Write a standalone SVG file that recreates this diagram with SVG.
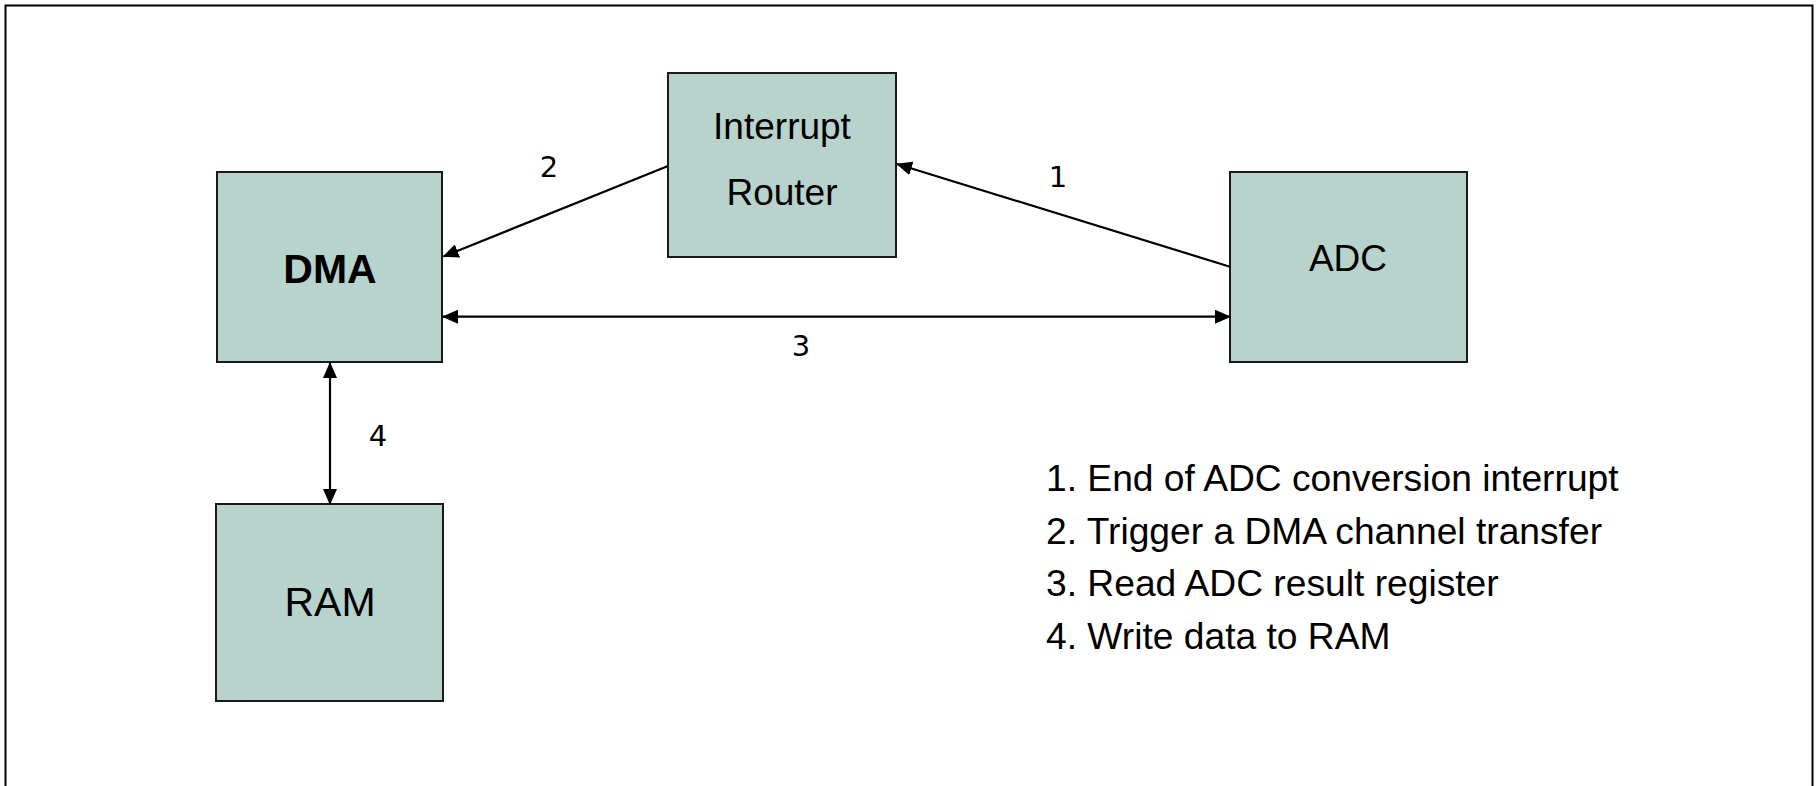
<svg xmlns="http://www.w3.org/2000/svg" width="1816" height="786" viewBox="0 0 1816 786">
<style>
.box{fill:#b8d3cc;stroke:#1a1a1a;stroke-width:2}
.t{font-family:"Liberation Sans",Arial,sans-serif;fill:#000;text-anchor:middle}
.num{font-family:"DejaVu Sans",Verdana,sans-serif;font-size:29px;fill:#000;text-anchor:middle}
.leg{font-family:"Liberation Sans",Arial,sans-serif;font-size:37.2px;fill:#000}
.c{stroke:#000;stroke-width:2.2;fill:none}
</style>
<defs>
<marker id="ah" markerUnits="userSpaceOnUse" markerWidth="16" markerHeight="14" viewBox="0 0 16 14" refX="15" refY="7" orient="auto-start-reverse">
<path d="M0,0 L16,7 L0,14 z" fill="#000"/>
</marker>
</defs>
<rect x="5.5" y="5.5" width="1807" height="800" fill="#fff" stroke="#000" stroke-width="2"/>
<g id="interrupt-router">
<rect class="box" x="668" y="73" width="228" height="184"/>
<text class="t" x="782" y="139" font-size="37">Interrupt</text>
<text class="t" x="782" y="205" font-size="37">Router</text>
</g>
<g id="dma">
<rect class="box" x="217" y="172" width="225" height="190"/>
<text class="t" x="330" y="283" font-size="41" font-weight="bold">DMA</text>
</g>
<g id="adc">
<rect class="box" x="1230" y="172" width="237" height="190"/>
<text class="t" x="1348" y="271" font-size="37">ADC</text>
</g>
<g id="ram">
<rect class="box" x="216" y="504" width="227" height="197"/>
<text class="t" x="330" y="616" font-size="41">RAM</text>
</g>
<g id="connectors">
<line class="c" x1="1230" y1="266.7" x2="897" y2="164" marker-end="url(#ah)"/>
<line class="c" x1="668" y1="166" x2="443.5" y2="256.5" marker-end="url(#ah)"/>
<line class="c" x1="443" y1="316.7" x2="1230" y2="316.7" marker-start="url(#ah)" marker-end="url(#ah)"/>
<line class="c" x1="330" y1="363" x2="330" y2="504" marker-start="url(#ah)" marker-end="url(#ah)"/>
<text class="num" x="1058" y="187">1</text>
<text class="num" x="549" y="177">2</text>
<text class="num" x="801" y="356">3</text>
<text class="num" x="378" y="446">4</text>
</g>
<g id="legend">
<text class="leg" x="1046" y="491">1. End of ADC conversion interrupt</text>
<text class="leg" x="1046" y="543.5">2. Trigger a DMA channel transfer</text>
<text class="leg" x="1046" y="596">3. Read ADC result register</text>
<text class="leg" x="1046" y="648.5">4. Write data to RAM</text>
</g>
</svg>
